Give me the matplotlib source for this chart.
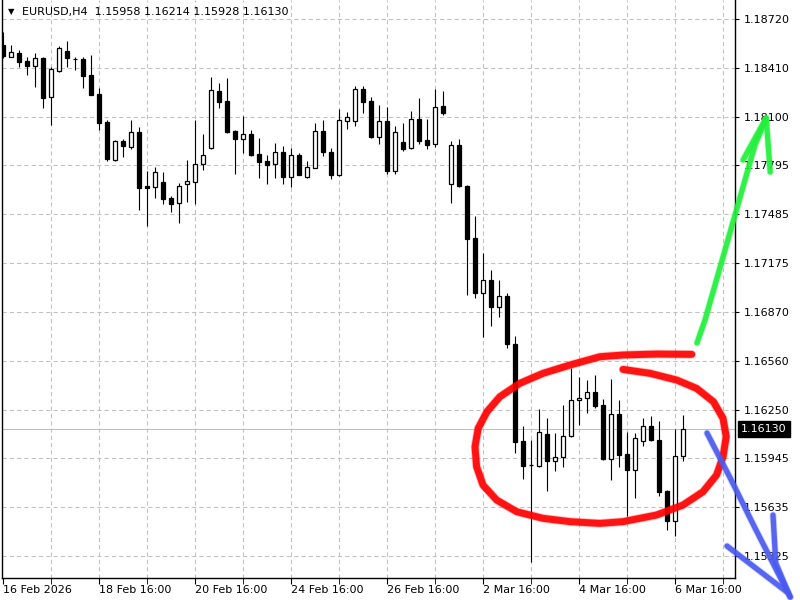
import matplotlib.pyplot as plt

# EURUSD H4, bar 0 = 16 Feb 2026 16:00, last bar = 6 Mar 20:00
symbol = "EURUSD,H4"

opens = [1.18554, 1.18481, 1.18502, 1.18453, 1.18422, 1.18470, 1.18224, 1.18392, 1.18517, 1.18464,
         1.18466, 1.18365, 1.18243, 1.18070, 1.17826, 1.17948, 1.17912, 1.18003, 1.17664, 1.17659,
         1.17687, 1.17586, 1.17554, 1.17674, 1.17691, 1.17801, 1.17902, 1.18264, 1.18201, 1.18011,
         1.17959, 1.17992, 1.17864, 1.17822, 1.17801, 1.17876, 1.17722, 1.17858, 1.17722, 1.17779,
         1.18011, 1.17876, 1.17733, 1.18076, 1.18076, 1.18275, 1.18201, 1.17975, 1.18072, 1.17760,
         1.17940, 1.17902, 1.18085, 1.17954, 1.17927, 1.18167, 1.17674, 1.17921, 1.17664, 1.17333,
         1.16986, 1.17070, 1.16901, 1.16969, 1.16663, 1.16052, 1.15901, 1.15896, 1.16095, 1.15928,
         1.15949, 1.16082, 1.16310, 1.16322, 1.16360, 1.16278, 1.15937, 1.16221, 1.15970, 1.15871,
         1.16050, 1.16147, 1.16057, 1.15737, 1.15545, 1.15958]
highs = [1.18638, 1.18554, 1.18523, 1.18481, 1.18506, 1.18481, 1.18417, 1.18548, 1.18580, 1.18481,
         1.18477, 1.18491, 1.18281, 1.18081, 1.17954, 1.17961, 1.18081, 1.18038, 1.17758, 1.17786,
         1.17752, 1.17600, 1.17684, 1.17828, 1.18081, 1.17990, 1.18350, 1.18312, 1.18344, 1.18017,
         1.18106, 1.18017, 1.17969, 1.17859, 1.17933, 1.17916, 1.17902, 1.17870, 1.17822, 1.18064,
         1.18081, 1.17902, 1.18148, 1.18133, 1.18295, 1.18295, 1.18224, 1.18175, 1.18161, 1.18043,
         1.18064, 1.18137, 1.18218, 1.18085, 1.18277, 1.18264, 1.17948, 1.17959, 1.17668, 1.17474,
         1.17238, 1.17133, 1.17068, 1.16988, 1.16716, 1.16147, 1.16059, 1.16255, 1.16198, 1.16101,
         1.16280, 1.16516, 1.16459, 1.16438, 1.16469, 1.16318, 1.16444, 1.16312, 1.16109, 1.16101,
         1.16200, 1.16210, 1.16179, 1.15740, 1.16128, 1.16214]
lows = [1.18472, 1.18479, 1.18417, 1.18365, 1.18291, 1.18158, 1.18049, 1.18386, 1.18417, 1.18397,
        1.18285, 1.18237, 1.18017, 1.17823, 1.17823, 1.17849, 1.17897, 1.17512, 1.17411, 1.17590,
        1.17550, 1.17501, 1.17432, 1.17564, 1.17550, 1.17765, 1.17900, 1.18154, 1.18000, 1.17739,
        1.17870, 1.17853, 1.17712, 1.17676, 1.17716, 1.17676, 1.17659, 1.17731, 1.17716, 1.17777,
        1.17853, 1.17708, 1.17730, 1.18024, 1.18043, 1.18127, 1.17965, 1.17929, 1.17739, 1.17739,
        1.17887, 1.17899, 1.17929, 1.17897, 1.17908, 1.18112, 1.17558, 1.17659, 1.16975, 1.16954,
        1.16711, 1.16781, 1.16836, 1.16642, 1.15979, 1.15812, 1.15290, 1.15890, 1.15738, 1.15865,
        1.15890, 1.16080, 1.16153, 1.16227, 1.16259, 1.15932, 1.15806, 1.15890, 1.15580, 1.15694,
        1.16023, 1.16052, 1.15707, 1.15492, 1.15452, 1.15928]
closes = [1.18485, 1.18512, 1.18449, 1.18422, 1.18470, 1.18222, 1.18401, 1.18534, 1.18470, 1.18466,
          1.18361, 1.18239, 1.18064, 1.17834, 1.17948, 1.17918, 1.18003, 1.17653, 1.17653, 1.17754,
          1.17581, 1.17548, 1.17666, 1.17695, 1.17801, 1.17859, 1.18270, 1.18196, 1.18007, 1.17961,
          1.17990, 1.17859, 1.17817, 1.17796, 1.17876, 1.17722, 1.17858, 1.17733, 1.17786, 1.18011,
          1.17880, 1.17733, 1.18079, 1.18098, 1.18275, 1.18194, 1.17971, 1.18072, 1.17758, 1.18003,
          1.17897, 1.18085, 1.17950, 1.17925, 1.18165, 1.18127, 1.17921, 1.17664, 1.17328, 1.16986,
          1.17070, 1.16901, 1.16969, 1.16663, 1.16048, 1.15896, 1.15899, 1.16107, 1.15928, 1.15949,
          1.16084, 1.16310, 1.16327, 1.16360, 1.16275, 1.15939, 1.16221, 1.15966, 1.15871, 1.16069,
          1.16147, 1.16059, 1.15732, 1.15545, 1.15956, 1.16130]

date_ticks = [0, 12, 24, 36, 48, 60, 72, 84]
date_labels = ["16 Feb 2026", "18 Feb 16:00", "20 Feb 16:00", "24 Feb 16:00",
               "26 Feb 16:00", "2 Mar 16:00", "4 Mar 16:00", "6 Mar 16:00"]
price_ticks = [1.18720, 1.18410, 1.18100, 1.17795, 1.17485, 1.17175,
               1.16870, 1.16560, 1.16250, 1.15945, 1.15635, 1.15325]

# hand drawn marks (bar index, price)
red_loop_x = [86.1, 81.7, 77.5, 74.6, 70.9, 67.5, 64.6, 62.1, 60.5, 59.4, 59.0, 59.2, 60.0,
              61.7, 64.2, 67.5, 70.9, 74.6, 77.5, 81.7, 85.0, 87.5, 89.2, 90.0, 90.4, 90.0,
              88.8, 86.7, 84.2, 80.9, 77.5]
red_loop_y = [1.16600, 1.16602, 1.16596, 1.16585, 1.16533, 1.16480, 1.16417, 1.16332, 1.16238,
              1.16133, 1.16016, 1.15890, 1.15774, 1.15680, 1.15606, 1.15564, 1.15543, 1.15532,
              1.15543, 1.15585, 1.15648, 1.15732, 1.15838, 1.15953, 1.16080, 1.16196, 1.16301,
              1.16385, 1.16438, 1.16480, 1.16505]
green_shaft_x = [86.75, 87.75, 89.0, 90.25, 91.5, 92.75, 94.0, 95.4]
green_shaft_y = [1.16672, 1.16817, 1.17038, 1.17259, 1.17480, 1.17702, 1.17923, 1.18093]
green_head_x = [92.5, 95.4, 95.9]
green_head_y = [1.17828, 1.18093, 1.17752]
blue_shaft_x = [88.0, 90.9, 94.0, 98.4]
blue_shaft_y = [1.16103, 1.15819, 1.15503, 1.15067]
blue_head1_x = [90.5, 98.0]
blue_head1_y = [1.15389, 1.15098]
blue_head2_x = [96.25, 96.6, 98.4]
blue_head2_y = [1.15585, 1.15281, 1.15067]

plt.rcParams['font.family'] = 'DejaVu Sans'
plt.rcParams['font.size'] = 8

dpi = 100
fig = plt.figure(figsize=(800 / dpi, 600 / dpi), dpi=dpi)
ax = fig.add_axes([1.5 / 800, 22 / 600, 733.5 / 800, 578 / 600])
ax.set_xlim(-0.19, 91.5)
ax.set_ylim(1.15187, 1.18839)

# grid
for i in range(6, 92, 6):
    ax.axvline(i, color='#c0c0c0', lw=0.75, ls=(0, (4, 3)), zorder=0)
for p in price_ticks:
    ax.axhline(p, color='#c0c0c0', lw=0.75, ls=(0, (4, 3)), zorder=0)

# current price line
ax.axhline(closes[-1], color='#c0c0c0', lw=0.75, zorder=1)

# candles
idx = list(range(len(opens)))
ax.vlines(idx, lows, highs, color='black', lw=0.8, zorder=2)
bottoms = [min(o, c) for o, c in zip(opens, closes)]
heights = [max(abs(c - o), 0.000005) for o, c in zip(opens, closes)]
colors = ['white' if c >= o else 'black' for o, c in zip(opens, closes)]
ax.bar(idx, heights, bottom=bottoms, width=0.55, color=colors,
       edgecolor='black', linewidth=0.9, zorder=3)

# axes look
ax.spines['top'].set_visible(False)
for s in ['left', 'bottom', 'right']:
    ax.spines[s].set_linewidth(1.0)
ax.yaxis.tick_right()
ax.set_yticks(price_ticks)
ax.set_yticklabels([f"{p:.5f}" for p in price_ticks])
ax.tick_params(axis='y', which='major', length=3, pad=3, labelsize=8, color='black')
ax.set_xticks(date_ticks)
ax.set_xticklabels(date_labels)
ax.set_xticks(list(range(6, 92, 12)), minor=True)
ax.tick_params(axis='x', which='both', length=4, pad=1, labelsize=8)
for lab in ax.get_xticklabels():
    lab.set_horizontalalignment('left')

# price box on the right scale
ax.annotate(f"{closes[-1]:.5f}", xy=(1, closes[-1]), xycoords=('axes fraction', 'data'),
            xytext=(4.5, 0), textcoords='offset points', va='center', ha='left',
            color='white', fontsize=8, annotation_clip=False,
            bbox=dict(boxstyle='square,pad=0.25', facecolor='black', edgecolor='black'))

# header
fig.text(11 / 800, 1 - 12 / 600, '▼', fontsize=6, ha='center', va='center')
fig.text(22 / 800, 1 - 12 / 600,
         f"{symbol}  {opens[-1]:.5f} {highs[-1]:.5f} {lows[-1]:.5f} {closes[-1]:.5f}",
         fontsize=8, va='center', ha='left')

# hand drawn annotations (soft edge + core stroke)
strokes = [
    (red_loop_x, red_loop_y, '#ff0000', 5.0),
    (green_shaft_x, green_shaft_y, '#1ff03a', 3.8),
    (green_head_x, green_head_y, '#1ff03a', 3.8),
    (blue_shaft_x, blue_shaft_y, '#4a5af0', 3.8),
    (blue_head1_x, blue_head1_y, '#4a5af0', 3.8),
    (blue_head2_x, blue_head2_y, '#4a5af0', 3.8),
]
for xs, ys, col, w in strokes:
    ax.plot(xs, ys, color=col, lw=w + 1.2, alpha=0.25, clip_on=False,
            solid_capstyle='round', solid_joinstyle='round', zorder=5)
    ax.plot(xs, ys, color=col, lw=w, alpha=0.9, clip_on=False,
            solid_capstyle='round', solid_joinstyle='round', zorder=5)

fig.savefig('out.png', dpi=dpi)
